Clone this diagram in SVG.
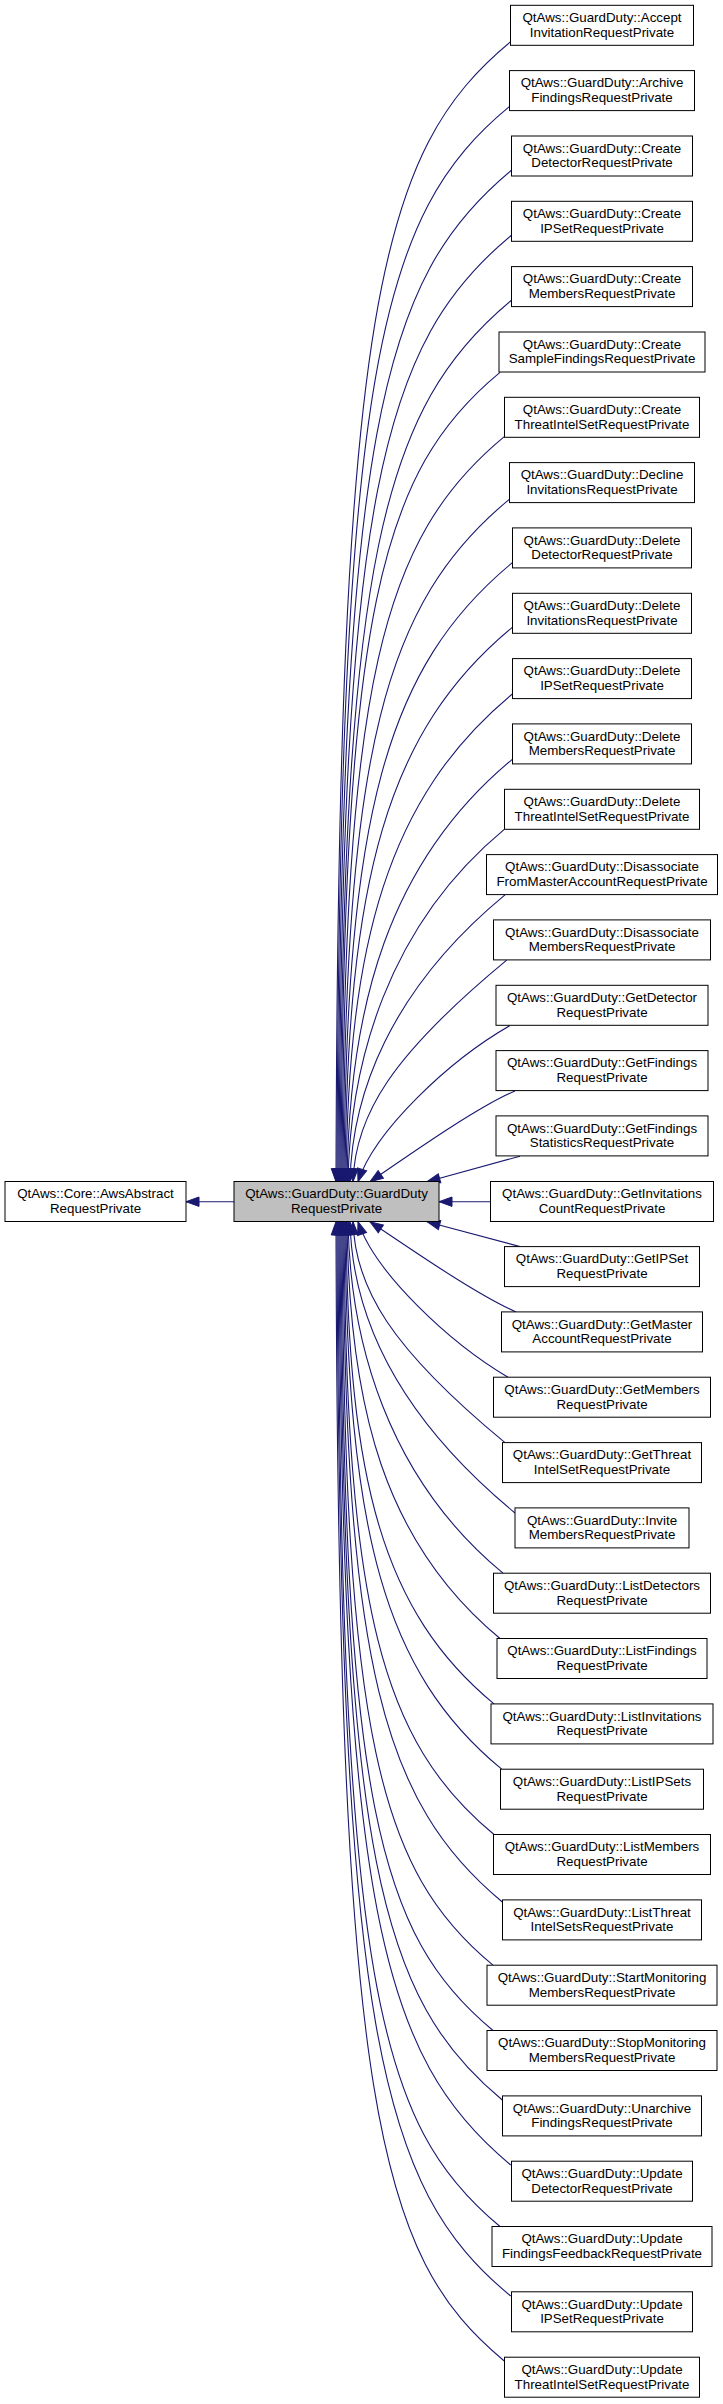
<svg xmlns="http://www.w3.org/2000/svg" width="723" height="2404" viewBox="0 0 723 2404">
<style>
.n rect{fill:#fff;stroke:#000;stroke-width:1}
.n text,.c text{font-family:"Liberation Sans",Arial,Helvetica,sans-serif;font-size:13.33px;text-anchor:middle;fill:#000}
.c rect{fill:#bfbfbf;stroke:#000;stroke-width:1}
.e path{fill:none;stroke:#191970;stroke-width:1.1;marker-end:url(#ah)}
</style>
<defs>
<marker id="ah" markerUnits="userSpaceOnUse" markerWidth="14" markerHeight="11" refX="13" refY="5" orient="auto" overflow="visible">
<path d="M0,0.3 L13,5 L0,9.7 Z" fill="#191970" stroke="#191970" stroke-width="1"/>
</marker>
</defs>
<rect width="723" height="2404" fill="#fff"/>
<g id="edges" class="e">
<path d="M234,1201.7 L186,1201.7"/>
<path d="M490.7,1201.7 L439,1201.7"/>
<path d="M510.7,41.7 C379.7,150 338,303.7 336,1181.7"/>
<path d="M509.3,106.7 C380.1,213.5 339,365.2 337,1181.7"/>
<path d="M511.7,170 C381.4,277.7 340,430.6 338,1181.7"/>
<path d="M511.7,235 C382.2,342.1 341,494.1 339,1181.7"/>
<path d="M511.7,300 C382.9,406.5 342,557.6 340,1181.7"/>
<path d="M500,372.3 C380.7,470.9 343,610.8 341,1181.7"/>
<path d="M504.3,436.7 C382.6,537.3 344,680.2 342,1181.7"/>
<path d="M509.3,499.3 C384.6,602.4 345,748.8 343,1181.7"/>
<path d="M512.3,562.7 C386.1,667 346,815.2 344,1181.7"/>
<path d="M512.3,627.3 C386.8,731 347,878.3 345,1181.7"/>
<path d="M512.3,694 C387.6,797.1 348,943.5 346,1181.7"/>
<path d="M512.3,759.3 C388.3,861.8 349,1007.3 347,1181.7"/>
<path d="M504.3,829.3 C387.1,926.2 350,1063.8 348,1181.7"/>
<path d="M505,894.9 C388.8,991 352,1095.7 350,1181.7"/>
<path d="M506.7,960.2 C391.4,1055.5 355,1115.2 353,1181.7"/>
<path d="M510,1025.6 C450,1060 375,1130 358,1181.7"/>
<path d="M515,1090.9 C475,1108 405,1158 370,1181.7"/>
<path d="M520,1156.2 L427,1181.7"/>
<path d="M520,1246.6 L427,1221.7"/>
<path d="M516,1311.9 C475,1294 405,1245 370,1221.7"/>
<path d="M508,1377.2 C450,1343 375,1273 358,1221.7"/>
<path d="M505,1442.6 C391,1348.4 355,1288 353,1221.7"/>
<path d="M515,1513 C391.3,1410.7 352,1309.1 350,1221.7"/>
<path d="M503,1573.2 C386.8,1477.1 350,1340.7 348,1221.7"/>
<path d="M500,1638.5 C385.3,1543.6 349,1409 347,1221.7"/>
<path d="M494,1703.9 C383,1612.1 348,1481.9 346,1221.7"/>
<path d="M501.7,1769.2 C384.2,1672 347,1534.2 345,1221.7"/>
<path d="M494,1834.5 C381.5,1741.5 346,1609.5 344,1221.7"/>
<path d="M502.3,1902 C382.8,1803.2 345,1663 343,1221.7"/>
<path d="M493,1965.2 C379.75,1871.6 344,1738.7 342,1221.7"/>
<path d="M493,2030.5 C379,1936.3 343,1802.5 341,1221.7"/>
<path d="M502.3,2100 C380.6,1999.4 342,1856.5 340,1221.7"/>
<path d="M510.7,2165 C381.9,2058.5 341,1907.4 339,1221.7"/>
<path d="M500,2226.5 C378.5,2126.1 340,1983.5 338,1221.7"/>
<path d="M510.7,2296 C380.4,2188.3 339,2035.4 337,1221.7"/>
<path d="M504.3,2361 C378.1,2256.7 338,2108.5 336,1221.7"/>
</g>
<g id="base" class="n"><rect x="5" y="1181.5" width="181" height="40"/><text x="95.5" y="1198.3">QtAws::Core::AwsAbstract</text><text x="95.5" y="1212.8">RequestPrivate</text></g>
<g id="center" class="c"><rect x="234" y="1181.5" width="205" height="40"/><text x="336.5" y="1198.3">QtAws::GuardDuty::GuardDuty</text><text x="336.5" y="1212.8">RequestPrivate</text></g>
<g id="n0" class="n"><rect x="510.5" y="5.3" width="183" height="40"/><text x="602" y="22.1">QtAws::GuardDuty::Accept</text><text x="602" y="36.6">InvitationRequestPrivate</text></g>
<g id="n1" class="n"><rect x="509.5" y="70.6" width="185" height="40"/><text x="602" y="87.4">QtAws::GuardDuty::Archive</text><text x="602" y="101.9">FindingsRequestPrivate</text></g>
<g id="n2" class="n"><rect x="511.5" y="136" width="181" height="40"/><text x="602" y="152.8">QtAws::GuardDuty::Create</text><text x="602" y="167.3">DetectorRequestPrivate</text></g>
<g id="n3" class="n"><rect x="511.5" y="201.3" width="181" height="40"/><text x="602" y="218.1">QtAws::GuardDuty::Create</text><text x="602" y="232.6">IPSetRequestPrivate</text></g>
<g id="n4" class="n"><rect x="511.5" y="266.6" width="181" height="40"/><text x="602" y="283.4">QtAws::GuardDuty::Create</text><text x="602" y="297.9">MembersRequestPrivate</text></g>
<g id="n5" class="n"><rect x="499" y="332" width="206" height="40"/><text x="602" y="348.8">QtAws::GuardDuty::Create</text><text x="602" y="363.3">SampleFindingsRequestPrivate</text></g>
<g id="n6" class="n"><rect x="504.5" y="397.3" width="195" height="40"/><text x="602" y="414.1">QtAws::GuardDuty::Create</text><text x="602" y="428.6">ThreatIntelSetRequestPrivate</text></g>
<g id="n7" class="n"><rect x="509.5" y="462.6" width="185" height="40"/><text x="602" y="479.4">QtAws::GuardDuty::Decline</text><text x="602" y="493.9">InvitationsRequestPrivate</text></g>
<g id="n8" class="n"><rect x="512.5" y="527.9" width="179" height="40"/><text x="602" y="544.7">QtAws::GuardDuty::Delete</text><text x="602" y="559.2">DetectorRequestPrivate</text></g>
<g id="n9" class="n"><rect x="512.5" y="593.3" width="179" height="40"/><text x="602" y="610.1">QtAws::GuardDuty::Delete</text><text x="602" y="624.6">InvitationsRequestPrivate</text></g>
<g id="n10" class="n"><rect x="512.5" y="658.6" width="179" height="40"/><text x="602" y="675.4">QtAws::GuardDuty::Delete</text><text x="602" y="689.9">IPSetRequestPrivate</text></g>
<g id="n11" class="n"><rect x="512.5" y="723.9" width="179" height="40"/><text x="602" y="740.7">QtAws::GuardDuty::Delete</text><text x="602" y="755.2">MembersRequestPrivate</text></g>
<g id="n12" class="n"><rect x="504.5" y="789.3" width="195" height="40"/><text x="602" y="806.1">QtAws::GuardDuty::Delete</text><text x="602" y="820.6">ThreatIntelSetRequestPrivate</text></g>
<g id="n13" class="n"><rect x="486.5" y="854.6" width="231" height="40"/><text x="602" y="871.4">QtAws::GuardDuty::Disassociate</text><text x="602" y="885.9">FromMasterAccountRequestPrivate</text></g>
<g id="n14" class="n"><rect x="493.5" y="919.9" width="217" height="40"/><text x="602" y="936.7">QtAws::GuardDuty::Disassociate</text><text x="602" y="951.2">MembersRequestPrivate</text></g>
<g id="n15" class="n"><rect x="496" y="985.3" width="212" height="40"/><text x="602" y="1002.1">QtAws::GuardDuty::GetDetector</text><text x="602" y="1016.6">RequestPrivate</text></g>
<g id="n16" class="n"><rect x="496" y="1050.6" width="212" height="40"/><text x="602" y="1067.4">QtAws::GuardDuty::GetFindings</text><text x="602" y="1081.9">RequestPrivate</text></g>
<g id="n17" class="n"><rect x="496" y="1115.9" width="212" height="40"/><text x="602" y="1132.7">QtAws::GuardDuty::GetFindings</text><text x="602" y="1147.2">StatisticsRequestPrivate</text></g>
<g id="n18" class="n"><rect x="490.5" y="1181.5" width="223" height="40"/><text x="602" y="1198.3">QtAws::GuardDuty::GetInvitations</text><text x="602" y="1212.8">CountRequestPrivate</text></g>
<g id="n19" class="n"><rect x="504.5" y="1246.6" width="195" height="40"/><text x="602" y="1263.4">QtAws::GuardDuty::GetIPSet</text><text x="602" y="1277.9">RequestPrivate</text></g>
<g id="n20" class="n"><rect x="501.5" y="1311.9" width="201" height="40"/><text x="602" y="1328.7">QtAws::GuardDuty::GetMaster</text><text x="602" y="1343.2">AccountRequestPrivate</text></g>
<g id="n21" class="n"><rect x="493.5" y="1377.2" width="217" height="40"/><text x="602" y="1394">QtAws::GuardDuty::GetMembers</text><text x="602" y="1408.5">RequestPrivate</text></g>
<g id="n22" class="n"><rect x="502.5" y="1442.6" width="199" height="40"/><text x="602" y="1459.4">QtAws::GuardDuty::GetThreat</text><text x="602" y="1473.9">IntelSetRequestPrivate</text></g>
<g id="n23" class="n"><rect x="515" y="1507.9" width="174" height="40"/><text x="602" y="1524.7">QtAws::GuardDuty::Invite</text><text x="602" y="1539.2">MembersRequestPrivate</text></g>
<g id="n24" class="n"><rect x="493.5" y="1573.2" width="217" height="40"/><text x="602" y="1590">QtAws::GuardDuty::ListDetectors</text><text x="602" y="1604.5">RequestPrivate</text></g>
<g id="n25" class="n"><rect x="497" y="1638.5" width="210" height="40"/><text x="602" y="1655.3">QtAws::GuardDuty::ListFindings</text><text x="602" y="1669.8">RequestPrivate</text></g>
<g id="n26" class="n"><rect x="491" y="1703.9" width="222" height="40"/><text x="602" y="1720.7">QtAws::GuardDuty::ListInvitations</text><text x="602" y="1735.2">RequestPrivate</text></g>
<g id="n27" class="n"><rect x="500.5" y="1769.2" width="203" height="40"/><text x="602" y="1786">QtAws::GuardDuty::ListIPSets</text><text x="602" y="1800.5">RequestPrivate</text></g>
<g id="n28" class="n"><rect x="493.5" y="1834.5" width="217" height="40"/><text x="602" y="1851.3">QtAws::GuardDuty::ListMembers</text><text x="602" y="1865.8">RequestPrivate</text></g>
<g id="n29" class="n"><rect x="502.5" y="1899.9" width="199" height="40"/><text x="602" y="1916.7">QtAws::GuardDuty::ListThreat</text><text x="602" y="1931.2">IntelSetsRequestPrivate</text></g>
<g id="n30" class="n"><rect x="487" y="1965.2" width="230" height="40"/><text x="602" y="1982">QtAws::GuardDuty::StartMonitoring</text><text x="602" y="1996.5">MembersRequestPrivate</text></g>
<g id="n31" class="n"><rect x="487" y="2030.5" width="230" height="40"/><text x="602" y="2047.3">QtAws::GuardDuty::StopMonitoring</text><text x="602" y="2061.8">MembersRequestPrivate</text></g>
<g id="n32" class="n"><rect x="502.5" y="2095.9" width="199" height="40"/><text x="602" y="2112.7">QtAws::GuardDuty::Unarchive</text><text x="602" y="2127.2">FindingsRequestPrivate</text></g>
<g id="n33" class="n"><rect x="511.5" y="2161.2" width="181" height="40"/><text x="602" y="2178">QtAws::GuardDuty::Update</text><text x="602" y="2192.5">DetectorRequestPrivate</text></g>
<g id="n34" class="n"><rect x="492" y="2226.5" width="220" height="40"/><text x="602" y="2243.3">QtAws::GuardDuty::Update</text><text x="602" y="2257.8">FindingsFeedbackRequestPrivate</text></g>
<g id="n35" class="n"><rect x="511.5" y="2291.8" width="181" height="40"/><text x="602" y="2308.6">QtAws::GuardDuty::Update</text><text x="602" y="2323.1">IPSetRequestPrivate</text></g>
<g id="n36" class="n"><rect x="504.5" y="2357.2" width="195" height="40"/><text x="602" y="2374">QtAws::GuardDuty::Update</text><text x="602" y="2388.5">ThreatIntelSetRequestPrivate</text></g>
</svg>
